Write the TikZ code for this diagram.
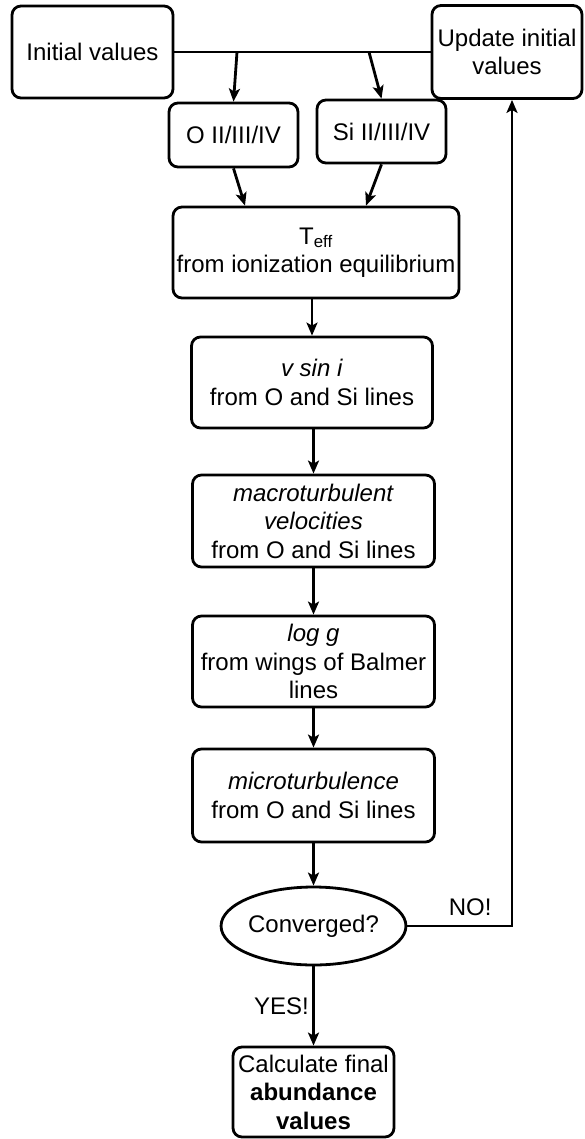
\documentclass[tikz,border=0pt]{standalone}
\usepackage{fontspec}
\setmainfont{Liberation Sans}
\usetikzlibrary{positioning, calc}
\usetikzlibrary{arrows.meta}
\usetikzlibrary{shapes}

\begin{document}
\begin{tikzpicture}[x=1pt,y=-1pt,->,>={Stealth[length=13pt,width=11pt,inset=3pt]},line width=2.8pt,draw=black!100]
 	\def \midcol{313.5}
 	\tikzstyle{s-box}=[rectangle,rounded corners=9pt,draw=black!100,line width=2.8pt,align=center,inner sep=2pt,font=\fontsize{24}{28.5}\selectfont]
 	\tikzstyle{c-node}=[ellipse,draw=black!100,line width=2.8pt,inner sep=0pt,minimum width=173pt,minimum height=78pt,font=\fontsize{24}{28.5}\selectfont]
 	\tikzstyle{annot}=[font=\fontsize{24}{28.5}\selectfont]
 	\useasboundingbox (0,0) rectangle (584,1139);

 	% top row
 	\node[s-box,minimum width=161pt,minimum height=92pt] 	(init)	at (92.5,52)	{Initial values};
 	\node[s-box,minimum width=150pt,minimum height=93pt] 	(update)	at (507,52)	{Update initial\\values};
 	\coordinate (o-split)	at (237,52);
 	\coordinate (si-split)	at (369,52);

 	% ions
 	\node[s-box,minimum width=129pt,minimum height=64pt] 	(oxy)	at (233.5,135)	{O II/III/IV};
 	\node[s-box,minimum width=129pt,minimum height=63pt] 	(sil)	at (381.5,131.5)	{Si II/III/IV};

 	% main column
 	\node[s-box,minimum width=286pt,minimum height=91pt] 	(teff)	at (316,252.5)	{T\textsubscript{eff}\\from ionization equilibrium};
 	\node[s-box,minimum width=241pt,minimum height=91pt] 	(vsini)	at (312,382.5)	{\textit{v sin i}\\from O and Si lines};
 	\node[s-box,minimum width=242pt,minimum height=92pt] 	(macro)	at (\midcol,521)	{\textit{macroturbulent}\\\textit{velocities}\\from O and Si lines};
 	\node[s-box,minimum width=242pt,minimum height=91pt] 	(logg)	at (\midcol,661.5)	{\textit{log g}\\from wings of Balmer\\lines};
 	\node[s-box,minimum width=242pt,minimum height=93pt] 	(micro)	at (\midcol,795.5)	{\textit{microturbulence}\\from O and Si lines};
 	\node[c-node] 	(conv)	at (\midcol,926)	{Converged?};
 	\node[s-box,minimum width=161pt,minimum height=90pt] 	(final)	at (\midcol,1092)	{Calculate final\\\textbf{abundance}\\\textbf{values}};

 	\draw[-] (init.east) -- (update.west);
 	\draw (o-split) -- (oxy.north);
 	\draw (si-split) -- (sil.north);
 	\draw (oxy.south) -- ([xshift=-71pt]teff.north);
 	\draw (sil.south) -- ([xshift=50pt]teff.north);
 	\draw (teff.south -| vsini.north) -- (vsini.north);
 	\draw (vsini.south -| macro.north) -- (macro.north);
 	\draw (macro.south) -- (logg.north);
 	\draw (logg.south) -- (micro.north);
 	\draw (micro.south) -- (conv.north);
 	\draw (conv.south) -- node[annot,left] {YES!} (final.north);
 	\draw (conv.east) -| node[annot,pos=0.3,above=6pt] {NO!} ([xshift=5pt]update.south);
\end{tikzpicture}
\end{document}
